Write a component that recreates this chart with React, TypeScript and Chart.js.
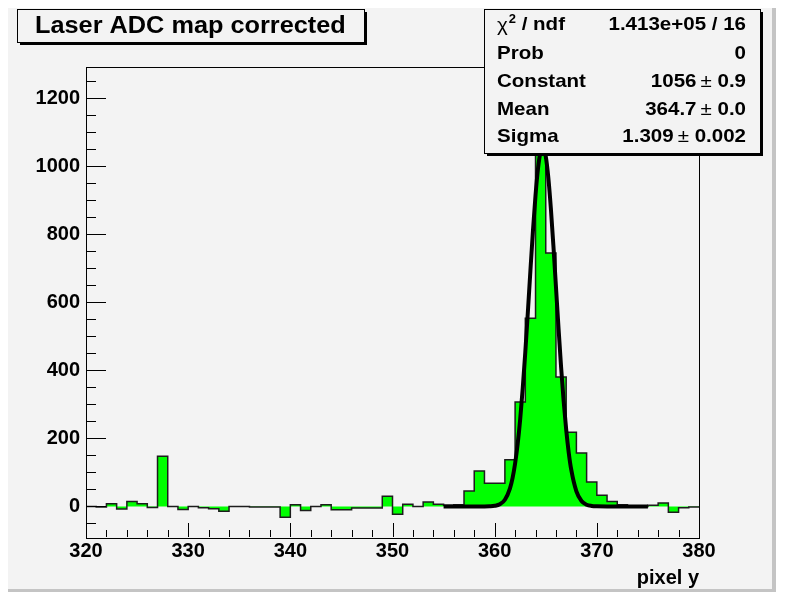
import { useEffect, useRef } from "react";
import { Chart, registerables } from "chart.js";

Chart.register(...registerables);

// ---- data ----
const BIN_LOW = [
  320, 321, 322, 323, 324, 325, 326, 327, 328, 329,
  330, 331, 332, 333, 334, 335, 336, 337, 338, 339,
  340, 341, 342, 343, 344, 345, 346, 347, 348, 349,
  350, 351, 352, 353, 354, 355, 356, 357, 358, 359,
  360, 361, 362, 363, 364, 365, 366, 367, 368, 369,
  370, 371, 372, 373, 374, 375, 376, 377, 378, 379,
];
const BIN_HIGH_EDGE = 380;
const COUNTS = [
  0, -2, 8, -8, 14, 8, -3, 147, 0, -9,
  0, -4, -7, -14, 0, 0, -2, -2, -2, -32,
  5, -12, 0, 5, -10, -10, -5, -5, -5, 30,
  -23, 6, 0, 13, 6, 3, 5, 45, 104, 68,
  68, 137, 307, 553, 1225, 745, 380, 218, 157, 72,
  33, 14, 5, 0, 0, 3, 10, -17, -4, -2,
];
const FIT_X = [
  355, 356, 357, 358, 359, 359.5, 360, 360.5, 361, 361.5, 361.75, 362, 362.25,
  362.5, 362.75, 363, 363.25, 363.5, 363.75, 364, 364.25, 364.5, 364.7, 365,
  365.25, 365.5, 365.75, 366, 366.25, 366.5, 366.75, 367, 367.25, 367.5, 368,
  368.5, 369, 369.5, 370, 371, 372, 373, 374, 375,
];
const FIT_Y = [
  0, 0, 0, 0, 0, 0.4, 1.7, 6.1, 19.4, 53, 83, 126, 183,
  257, 348, 454, 572, 694, 811, 915, 995, 1044, 1056, 1029,
  967, 876, 766, 645, 524, 410, 310, 226, 158, 107, 44,
  15.6, 4.8, 1.3, 0.3, 0, 0, 0, 0, 0,
];
const X_TICKS = [320, 330, 340, 350, 360, 370, 380];
const Y_TICKS = [0, 200, 400, 600, 800, 1000, 1200];
const TITLE = "Laser ADC map corrected";
const X_TITLE = "pixel y";
const STAT_NAMES = ["χ2 / ndf", "Prob", "Constant", "Mean", "Sigma"];
const STAT_VALUES = ["1.413e+05 / 16", "0", "1056", "364.7", "1.309"];
const STAT_ERRORS = [null, null, "0.9", "0.0", "0.002"];

const FAMILY = '"Liberation Sans", Arial, Helvetica, sans-serif';
const BG = "#f3f3f3";
const W = 768;
const H = 584;

function drawStretched(ctx: CanvasRenderingContext2D, text: string, x: number, y: number, font: string, align: "left" | "right", sx: number) {
  ctx.save();
  ctx.font = font;
  ctx.textBaseline = "middle";
  ctx.textAlign = align;
  ctx.translate(x, y);
  ctx.scale(sx, 1);
  ctx.fillText(text, 0, 0);
  ctx.restore();
}
function textW(ctx: CanvasRenderingContext2D, text: string, font: string, sx: number) {
  ctx.save();
  ctx.font = font;
  const w = ctx.measureText(text).width * sx;
  ctx.restore();
  return w;
}

function drawBox(ctx: CanvasRenderingContext2D, x: number, y: number, w: number, h: number) {
  ctx.save();
  ctx.fillStyle = "#000";
  ctx.fillRect(x + 3, y + 3, w, h);
  ctx.fillStyle = BG;
  ctx.fillRect(x, y, w, h);
  ctx.strokeStyle = "#000";
  ctx.lineWidth = 1;
  ctx.strokeRect(x + 0.5, y + 0.5, w, h);
  ctx.restore();
}

const rootPlugin = {
  id: "rootStyle",
  beforeDraw(chart: any) {
    const ctx = chart.ctx as CanvasRenderingContext2D;
    ctx.save();
    ctx.fillStyle = BG;
    ctx.fillRect(0, 0, W, H);
    ctx.fillStyle = "#c4c4c4";
    ctx.fillRect(W - 4, 0, 4, H);
    ctx.fillRect(0, H - 3, W, 3);
    ctx.restore();
  },
  afterDatasetsDraw(chart: any) {
    const ctx = chart.ctx as CanvasRenderingContext2D;
    const { left, right, top, bottom } = chart.chartArea;
    const xs = chart.scales.x;
    const ys = chart.scales.y;
    ctx.save();
    ctx.strokeStyle = "#000";
    ctx.lineWidth = 1;
    ctx.beginPath();
    for (let v = 320; v <= 380; v += 2) {
      const px = Math.round(xs.getPixelForValue(v)) + 0.5;
      const len = v % 10 === 0 ? 14 : 7;
      ctx.moveTo(px, bottom);
      ctx.lineTo(px, bottom - len);
    }
    for (let v = -50; v <= 1250; v += 50) {
      const py = Math.round(ys.getPixelForValue(v)) + 0.5;
      const len = v % 200 === 0 ? 20 : 10;
      ctx.moveTo(left, py);
      ctx.lineTo(left + len, py);
    }
    ctx.stroke();
    ctx.strokeRect(Math.round(left) + 0.5, Math.round(top) + 0.5, Math.round(right - left), Math.round(bottom - top));
    ctx.restore();
  },
  afterDraw(chart: any) {
    const ctx = chart.ctx as CanvasRenderingContext2D;
    ctx.save();
    ctx.fillStyle = "#000";
    drawBox(ctx, 9, 1, 347, 33);
    drawStretched(ctx, TITLE, 27, 18.5, `bold 23px ${FAMILY}`, "left", 1.1);

    drawBox(ctx, 476, 1, 276, 144);
    const rowY = [17, 46, 74, 102, 129];
    const bold = `bold 19px ${FAMILY}`;
    const normal = `19px ${FAMILY}`;
    const sx = 1.08;
    const xL = 489;
    const xR = 738;
    STAT_NAMES.forEach((name, i) => {
      const y = rowY[i];
      if (name.startsWith("χ2")) {
        const rest = name.slice(2);
        drawStretched(ctx, "χ", xL, y + 1, normal, "left", sx);
        const cw = textW(ctx, "χ", normal, sx);
        drawStretched(ctx, "2", xL + cw + 1, y - 5, `bold 12px ${FAMILY}`, "left", sx);
        const sw = textW(ctx, "2", `bold 12px ${FAMILY}`, sx);
        drawStretched(ctx, rest, xL + cw + sw + 1, y, bold, "left", sx);
      } else {
        drawStretched(ctx, name, xL, y, bold, "left", sx);
      }
      const err = STAT_ERRORS[i];
      if (err === null) {
        drawStretched(ctx, STAT_VALUES[i], xR, y, bold, "right", sx);
      } else {
        const errW = textW(ctx, " " + err, bold, sx);
        drawStretched(ctx, " " + err, xR, y, bold, "right", sx);
        const pmW = textW(ctx, "±", normal, sx);
        drawStretched(ctx, "±", xR - errW, y, normal, "right", sx);
        drawStretched(ctx, STAT_VALUES[i], xR - errW - pmW - 4, y, bold, "right", sx);
      }
    });
    ctx.restore();
  },
};

export default function App() {
  const ref = useRef<HTMLCanvasElement | null>(null);
  useEffect(() => {
    if (!ref.current) return;
    const histData = BIN_LOW.map((x, i) => ({ x, y: COUNTS[i] }));
    histData.push({ x: BIN_HIGH_EDGE, y: COUNTS[COUNTS.length - 1] });
    const fitData = FIT_X.map((x, i) => ({ x, y: FIT_Y[i] }));
    const tickFont = { family: FAMILY, size: 20, weight: "bold" as const };
    const chart = new Chart(ref.current, {
      type: "line",
      data: {
        datasets: [
          {
            label: "fit",
            data: fitData,
            borderColor: "#000",
            borderWidth: 4,
            pointRadius: 0,
            fill: false,
            cubicInterpolationMode: "monotone",
            order: 0,
          },
          {
            label: "hist",
            data: histData,
            stepped: true,
            borderColor: "#1c1c1c",
            borderWidth: 1.5,
            backgroundColor: "#00ff00",
            fill: "origin",
            pointRadius: 0,
            order: 1,
          },
        ],
      },
      options: {
        animation: false,
        responsive: false,
        devicePixelRatio: 1,
        events: [],
        layout: { padding: { left: 0, right: 77, top: 58.5, bottom: 0 } },
        plugins: {
          legend: { display: false },
          tooltip: { enabled: false },
          title: { display: false },
        },
        scales: {
          x: {
            type: "linear",
            min: 320,
            max: 380,
            afterBuildTicks: (s: any) => {
              s.ticks = X_TICKS.map((v) => ({ value: v }));
            },
            afterFit: (s: any) => {
              s.height = 55;
            },
            grid: { display: false, drawTicks: false },
            border: { display: false },
            ticks: {
              font: tickFont,
              color: "#000",
              padding: 2,
              maxRotation: 0,
              autoSkip: false,
              callback: (v: any) => String(v),
            },
            title: {
              display: true,
              text: X_TITLE,
              align: "end",
              color: "#000",
              font: tickFont,
              padding: { top: 0, bottom: 2 },
            },
          },
          y: {
            type: "linear",
            min: -90,
            max: 1293,
            afterBuildTicks: (s: any) => {
              s.ticks = Y_TICKS.map((v) => ({ value: v }));
            },
            afterFit: (s: any) => {
              s.width = 78;
            },
            grid: { display: false, drawTicks: false },
            border: { display: false },
            ticks: {
              font: tickFont,
              color: "#000",
              padding: 6,
              autoSkip: false,
              callback: (v: any) => String(v),
            },
          },
        },
      },
      plugins: [rootPlugin],
    } as any);
    return () => chart.destroy();
  }, []);
  return (
    <div style={{ position: "absolute", left: 8, top: 8, width: W, height: H }}>
      <canvas ref={ref} width={W} height={H} style={{ display: "block", width: W, height: H }} />
    </div>
  );
}
